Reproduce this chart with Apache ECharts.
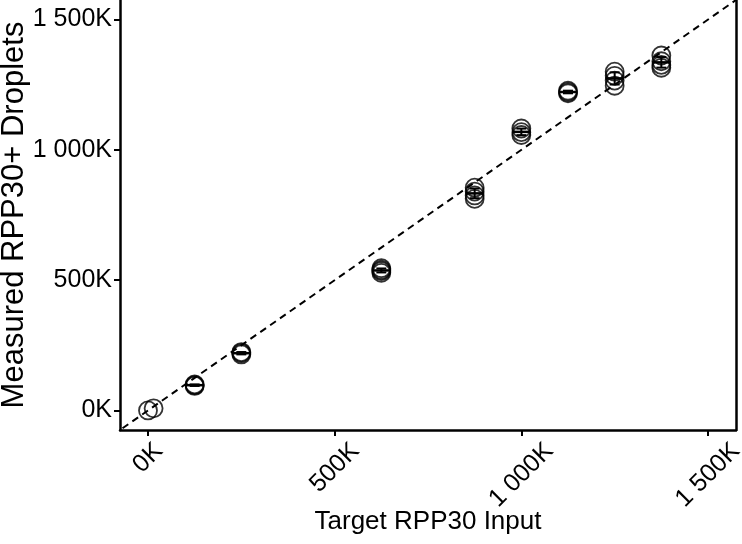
<!DOCTYPE html>
<html><head><meta charset="utf-8">
<script src="https://cdn.jsdelivr.net/npm/echarts@6/dist/echarts.min.js"></script>
<style>html,body{margin:0;padding:0;background:#fff}#c{width:742px;height:544px}</style>
</head><body><div id="c"></div>
<script>
// Target RPP30 input per replicate (x) and measured RPP30+ droplets (y)
const targetInput = [
  0, 15000,
  125000, 125000, 125000,
  250000, 250000, 250000,
  625000, 625000, 625000, 625000,
  875000, 875000, 875000, 875000,
  1000000, 1000000, 1000000,
  1125000, 1125000, 1125000,
  1250000, 1250000, 1250000, 1250000,
  1375000, 1375000, 1375000, 1375000
];
const measuredDroplets = [
  0, 8000,
  94000, 97000, 100000,
  215000, 220000, 224000,
  528000, 535000, 540000, 546000,
  855000, 840000, 825000, 812000,
  1082000, 1068000, 1057000,
  1217000, 1222000, 1227000,
  1300000, 1284000, 1266000, 1246000,
  1362000, 1340000, 1326000, 1315000
];
const tickValues = [0, 500000, 1000000, 1500000];
const xName = 'Target RPP30 Input';
const yName = 'Measured RPP30+ Droplets';

const points = targetInput.map((x, i) => [x, measuredDroplets[i]]);
const groups = {};
points.forEach(([x, y]) => { (groups[x] = groups[x] || []).push(y); });
const summary = Object.keys(groups).filter(k => groups[k].length > 1).map(k => {
  const v = groups[k]; const m = v.reduce((a, b) => a + b, 0) / v.length;
  const sd = Math.sqrt(v.reduce((a, b) => a + (b - m) * (b - m), 0) / (v.length - 1));
  return [Number(k), m, m - sd, m + sd];
});

const fmt = v => {
  const k = Math.round(v / 1000);
  return String(k).replace(/\B(?=(\d{3})+(?!\d))/g, ' ') + 'K';
};
const FONT = 'Liberation Sans';
const LBL = 25;
// measure label widths so rotated labels all hang with their top at the same height
const ctx = document.createElement('canvas').getContext('2d');
ctx.font = LBL + 'px ' + FONT;
const baseW = Math.min(...tickValues.map(v => ctx.measureText(fmt(v)).width));
const rich = {};
tickValues.forEach((v, i) => {
  const b = Math.max(0, (ctx.measureText(fmt(v)).width - baseW) / 2);
  rich['p' + i] = { padding: [b, b, 0, 0], fontFamily: FONT, fontSize: LBL, color: '#000' };
});

const chart = echarts.init(document.getElementById('c'));
chart.setOption({
  animation: false,
  backgroundColor: '#fff',
  grid: { left: 120, right: 6, top: 0, bottom: 114, outerBoundsMode: 'none', containLabel: false },
  xAxis: {
    type: 'value', min: -75000, max: 1575000,
    name: xName, nameLocation: 'middle', nameGap: 79, nameMoveOverlap: false,
    nameTextStyle: { fontFamily: FONT, fontSize: 26, color: '#000' },
    axisLine: { show: true, onZero: false, lineStyle: { color: '#000', width: 2.5 } },
    axisTick: { show: true, customValues: tickValues, length: 6, lineStyle: { color: '#000', width: 2 } },
    axisLabel: { customValues: tickValues, rotate: 45, margin: 28, align: 'center', verticalAlign: 'middle',
      formatter: v => '{p' + tickValues.indexOf(v) + '|' + fmt(v) + '}', rich,
      fontFamily: FONT, fontSize: LBL, color: '#000' },
    splitLine: { show: false }
  },
  yAxis: [{
    type: 'value', min: -75000, max: 1575000,
    name: yName, nameLocation: 'middle', nameGap: 90, nameMoveOverlap: false,
    nameTextStyle: { fontFamily: FONT, fontSize: 31, color: '#000' },
    axisLine: { show: true, onZero: false, lineStyle: { color: '#000', width: 2.5 } },
    axisTick: { show: true, customValues: tickValues, length: 6, lineStyle: { color: '#000', width: 2 } },
    axisLabel: { customValues: tickValues, formatter: fmt, margin: 8,
      fontFamily: FONT, fontSize: LBL, color: '#000' },
    splitLine: { show: false }
  }, {
    type: 'value', min: -75000, max: 1575000, position: 'right',
    axisLine: { show: true, onZero: false, lineStyle: { color: '#000', width: 2.5 } },
    axisTick: { show: false }, axisLabel: { show: false }, splitLine: { show: false }
  }],
  series: [
    {
      type: 'line', data: [[-200000, -200000], [1800000, 1800000]], clip: true,
      symbol: 'none', silent: true,
      lineStyle: { color: '#000', width: 2, type: [7, 5] }, z: 1
    },
    {
      type: 'scatter', data: points, symbol: 'circle', symbolSize: 18,
      itemStyle: { color: 'rgba(0,0,0,0)', borderColor: '#000', borderWidth: 1.8 }, z: 3
    },
    {
      type: 'custom', data: summary, z: 4,
      renderItem: (params, api) => {
        const x = api.value(0);
        const pm = api.coord([x, api.value(1)]);
        const plo = api.coord([x, api.value(2)]);
        const phi = api.coord([x, api.value(3)]);
        const st = { stroke: '#000', lineWidth: 2 };
        const cap = 5, bar = 9;
        return { type: 'group', children: [
          { type: 'line', shape: { x1: pm[0], y1: plo[1], x2: pm[0], y2: phi[1] }, style: st },
          { type: 'line', shape: { x1: pm[0] - cap, y1: plo[1], x2: pm[0] + cap, y2: plo[1] }, style: st },
          { type: 'line', shape: { x1: pm[0] - cap, y1: phi[1], x2: pm[0] + cap, y2: phi[1] }, style: st },
          { type: 'line', shape: { x1: pm[0] - bar, y1: pm[1], x2: pm[0] + bar, y2: pm[1] }, style: { stroke: '#000', lineWidth: 2.5 } }
        ]};
      }
    }
  ]
});
</script></body></html>
